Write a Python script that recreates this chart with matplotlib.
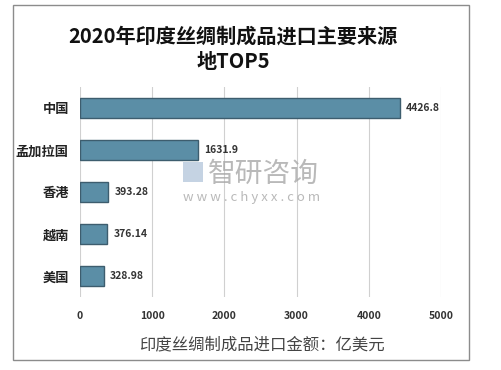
import matplotlib
matplotlib.use("Agg")
import matplotlib.pyplot as plt
from matplotlib.patches import Rectangle

plt.rcParams['font.family'] = ['Noto Sans CJK SC', 'DejaVu Sans']

categories = ['中国', '孟加拉国', '香港', '越南', '美国']
values = [4426.8, 1631.9, 393.28, 376.14, 328.98]
value_labels = ['4426.8', '1631.9', '393.28', '376.14', '328.98']
xticks = [0, 1000, 2000, 3000, 4000, 5000]
title = '2020年印度丝绸制成品进口主要来源\n地TOP5'
xlabel = '印度丝绸制成品进口金额：亿美元'

fig = plt.figure(figsize=(5.01, 3.70), dpi=100)
ax = fig.add_axes([80/501, 1-297/370, (441-80)/501, (297-87)/370])

# outer border
fig.patches.append(Rectangle((13/501, 1-360/370), (469-13)/501, (360-5)/370,
                             transform=fig.transFigure, fill=False,
                             edgecolor='#8c8c8c', linewidth=1.0))

y = list(range(len(categories)))
ax.barh(y, values, height=0.46, color='#5b8ea6', edgecolor='#3d5d6e',
        linewidth=1.0, zorder=3)
for yi, v, lab in zip(y, values, value_labels):
    ax.text(v + 90, yi, lab, va='center', ha='left', fontsize=7.5,
            fontweight='bold', color='#333333', zorder=4)

ax.set_ylim(len(categories) - 0.5, -0.5)
ax.set_xlim(0, 5000)
ax.set_yticks(y)
ax.set_yticklabels(categories, fontsize=9.5, fontweight='bold', color='#222222')
ax.set_xticks(xticks)
ax.set_xticklabels([str(t) for t in xticks], fontsize=7.5, fontweight='bold',
                   color='#333333')
ax.tick_params(axis='y', length=0, pad=8)
ax.tick_params(axis='x', length=0, pad=10)
for s in ax.spines.values():
    s.set_visible(False)
ax.grid(axis='x', color='#d0d0d0', linewidth=0.8, zorder=0)
ax.set_axisbelow(True)

fig.text(233/501, 1-49/370, title, ha='center', va='center', fontsize=14.5,
         fontweight='bold', color='#111111', linespacing=1.25)
fig.text(262/501, 1-345/370, xlabel, ha='center', va='center', fontsize=11.8,
         color='#444444')

# watermark
fig.add_artist(Rectangle((183/501, 1-182/370), 20/501, 20/370,
                         transform=fig.transFigure, facecolor='#b7c9dc',
                         edgecolor='none', alpha=0.8))
fig.text(208/501, 1-174/370, '智研咨询', ha='left', va='center', fontsize=20,
         color='#a8a8a8', alpha=0.8)
fig.text(183/501, 1-197/370, 'w w w . c h y x x . c o m', ha='left', va='center',
         fontsize=9.5, color='#a8a8a8', alpha=0.8)

fig.savefig('out.png', dpi=100)
